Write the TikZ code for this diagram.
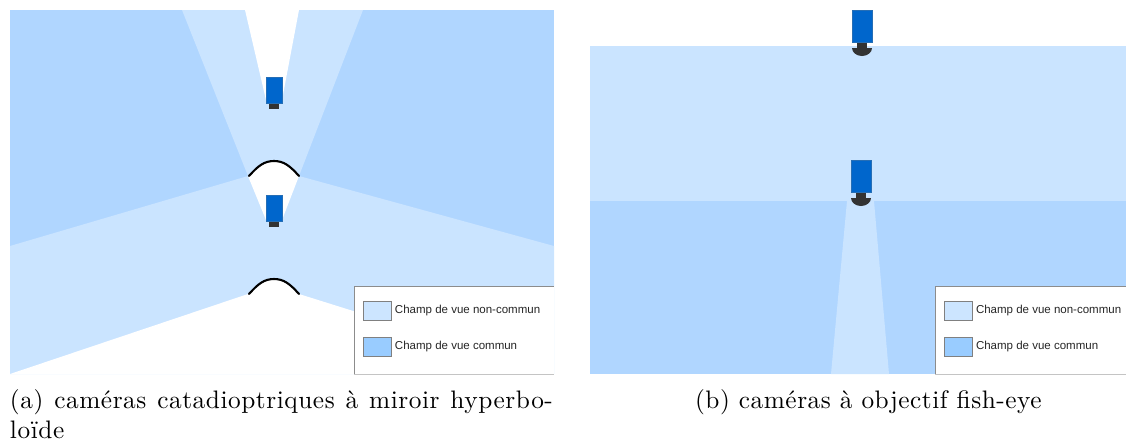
\documentclass[tikz,border=0pt]{standalone}
\usepackage{fontspec}
\newfontfamily\legendfont{Liberation Sans}
\newfontfamily\capfont[OpticalSize=10,LetterSpace=2.2]{Latin Modern Roman}
\usetikzlibrary{positioning}
\definecolor{lightfield}{HTML}{CAE4FF}
\definecolor{commonfield}{HTML}{B0D6FF}
\definecolor{swatchcommon}{HTML}{99CCFF}
\definecolor{swatchlight}{HTML}{CCE5FF}
\definecolor{camblue}{HTML}{0066CC}
\definecolor{camdark}{HTML}{333333}
\definecolor{legendline}{HTML}{8C8C8C}
\definecolor{legendbase}{HTML}{C4C4C4}

\begin{document}
\begin{tikzpicture}[
    x=0.02cm, y=-0.02cm,
    % legend frame
    legendbox/.style={
        fill=white,
        anchor=north west,
        outer sep=0pt,
        inner sep=0pt
    },
    % legend colour patch
    swatch/.style={
        draw=gray,
        line width=0.4pt,
        minimum width=0.56cm,
        minimum height=0.38cm,
        outer sep=0pt,
        inner sep=0pt
    },
    % legend label
    legtext/.style={
        font=\legendfont\fontsize{6.55}{8}\selectfont,
        text=black!85,
        inner sep=0pt,
        outer sep=0pt,
        yshift=-0.01cm
    },
    % caption under a panel
    captext/.style={
        font=\capfont\fontsize{14.4}{17.6}\selectfont,
        inner sep=0pt,
        outer sep=0pt,
        anchor=base west
    },
    mirror/.style={line width=1.2pt, line cap=round},
    cambody/.style={fill=camblue, draw=camblue!70!gray, line width=0.3pt}
]
    \useasboundingbox (0,0) rectangle (1126,444);

    % --- panel a: fields of view ---
    \fill[commonfield] (10,10) rectangle (554,374);
    \fill[lightfield] (182,10) -- (363,10) -- (299,176) -- (248,176) -- cycle;
    \fill[lightfield] (10,246) -- (248,176) -- (299,176) -- (554,246) -- (554,374) -- (10,374) -- cycle;
    \fill[white] (245,10) -- (299,10) -- (282,100) -- (266,100) -- cycle;
    \fill[white] (248,176) .. controls (258,166) and (264,161) .. (274,161) .. controls (284,161) and (290,166) .. (299,176) -- (282,220) -- (266,220) -- cycle;
    \fill[white] (10,374) -- (248,294) .. controls (258,284) and (264,279) .. (274,279) .. controls (284,279) and (290,284) .. (299,294) -- (554,374) -- cycle;

    % --- panel a: cameras and mirrors ---
    \foreach \ytop in {77,195} {
        \fill[camdark] (269,\ytop+26) rectangle (279,\ytop+32);
        \draw[cambody] (266,\ytop) rectangle (282,\ytop+26);
    }
    \foreach \yend in {176,294} {
        \draw[mirror] (249,\yend) .. controls (258,\yend-10) and (264,\yend-15) .. (274,\yend-15) .. controls (284,\yend-15) and (290,\yend-10) .. (299,\yend);
    }

    % --- panel a: legend ---
    \node[legendbox, minimum width=4cm, minimum height=1.76cm] (legA) at (354,286) {};
    \draw[legendline, line width=0.5pt] (legA.south west) -- (legA.north west) -- (legA.north east);
    \draw[legendbase, line width=0.5pt] (legA.south west) -- (legA.south east);
    \node[swatch, fill=swatchlight, anchor=north west] (lightA) at (363,301) {};
    \node[swatch, fill=swatchcommon, below=0.34cm of lightA] (commonA) {};
    \node[legtext, right=0.08cm of lightA] (lightAtext) {Champ de vue non-commun};
    \node[legtext, right=0.08cm of commonA] (commonAtext) {Champ de vue commun};

    % --- panel b: fields of view ---
    \fill[lightfield] (590,46) rectangle (1126,201);
    \fill[commonfield] (590,201) rectangle (1126,374);
    \fill[lightfield] (847,201) -- (874,201) -- (889,374) -- (831,374) -- cycle;

    % --- panel b: cameras ---
    \foreach \xleft/\ytop in {852/10,851/160} {
        \fill[camdark] (\xleft+5,\ytop+32) rectangle (\xleft+15,\ytop+39);
        \fill[camdark] (\xleft,\ytop+38) arc[start angle=180, end angle=0, x radius=10, y radius=8] -- cycle;
        \draw[cambody] (\xleft,\ytop) rectangle (\xleft+20,\ytop+32);
    }

    % --- panel b: legend ---
    \node[legendbox, minimum width=3.82cm, minimum height=1.76cm] (legB) at (935,286) {};
    \draw[legendline, line width=0.5pt] (legB.south west) -- (legB.north west) -- (legB.north east);
    \draw[legendbase, line width=0.5pt] (legB.south west) -- (legB.south east);
    \node[swatch, fill=swatchlight, anchor=north west] (lightB) at (944,301) {};
    \node[swatch, fill=swatchcommon, below=0.34cm of lightB] (commonB) {};
    \node[legtext, right=0.08cm of lightB] (lightBtext) {Champ de vue non-commun};
    \node[legtext, right=0.08cm of commonB] (commonBtext) {Champ de vue commun};

    % --- captions ---
    \node[captext, text width=10.86cm, align=justify] (capA) at (10,408) {(a) caméras catadioptriques à miroir hyperbo-\linebreak loïde};
    \node[captext] (capB) at (695,408) {(b) caméras à objectif fish-eye};
\end{tikzpicture}
\end{document}
